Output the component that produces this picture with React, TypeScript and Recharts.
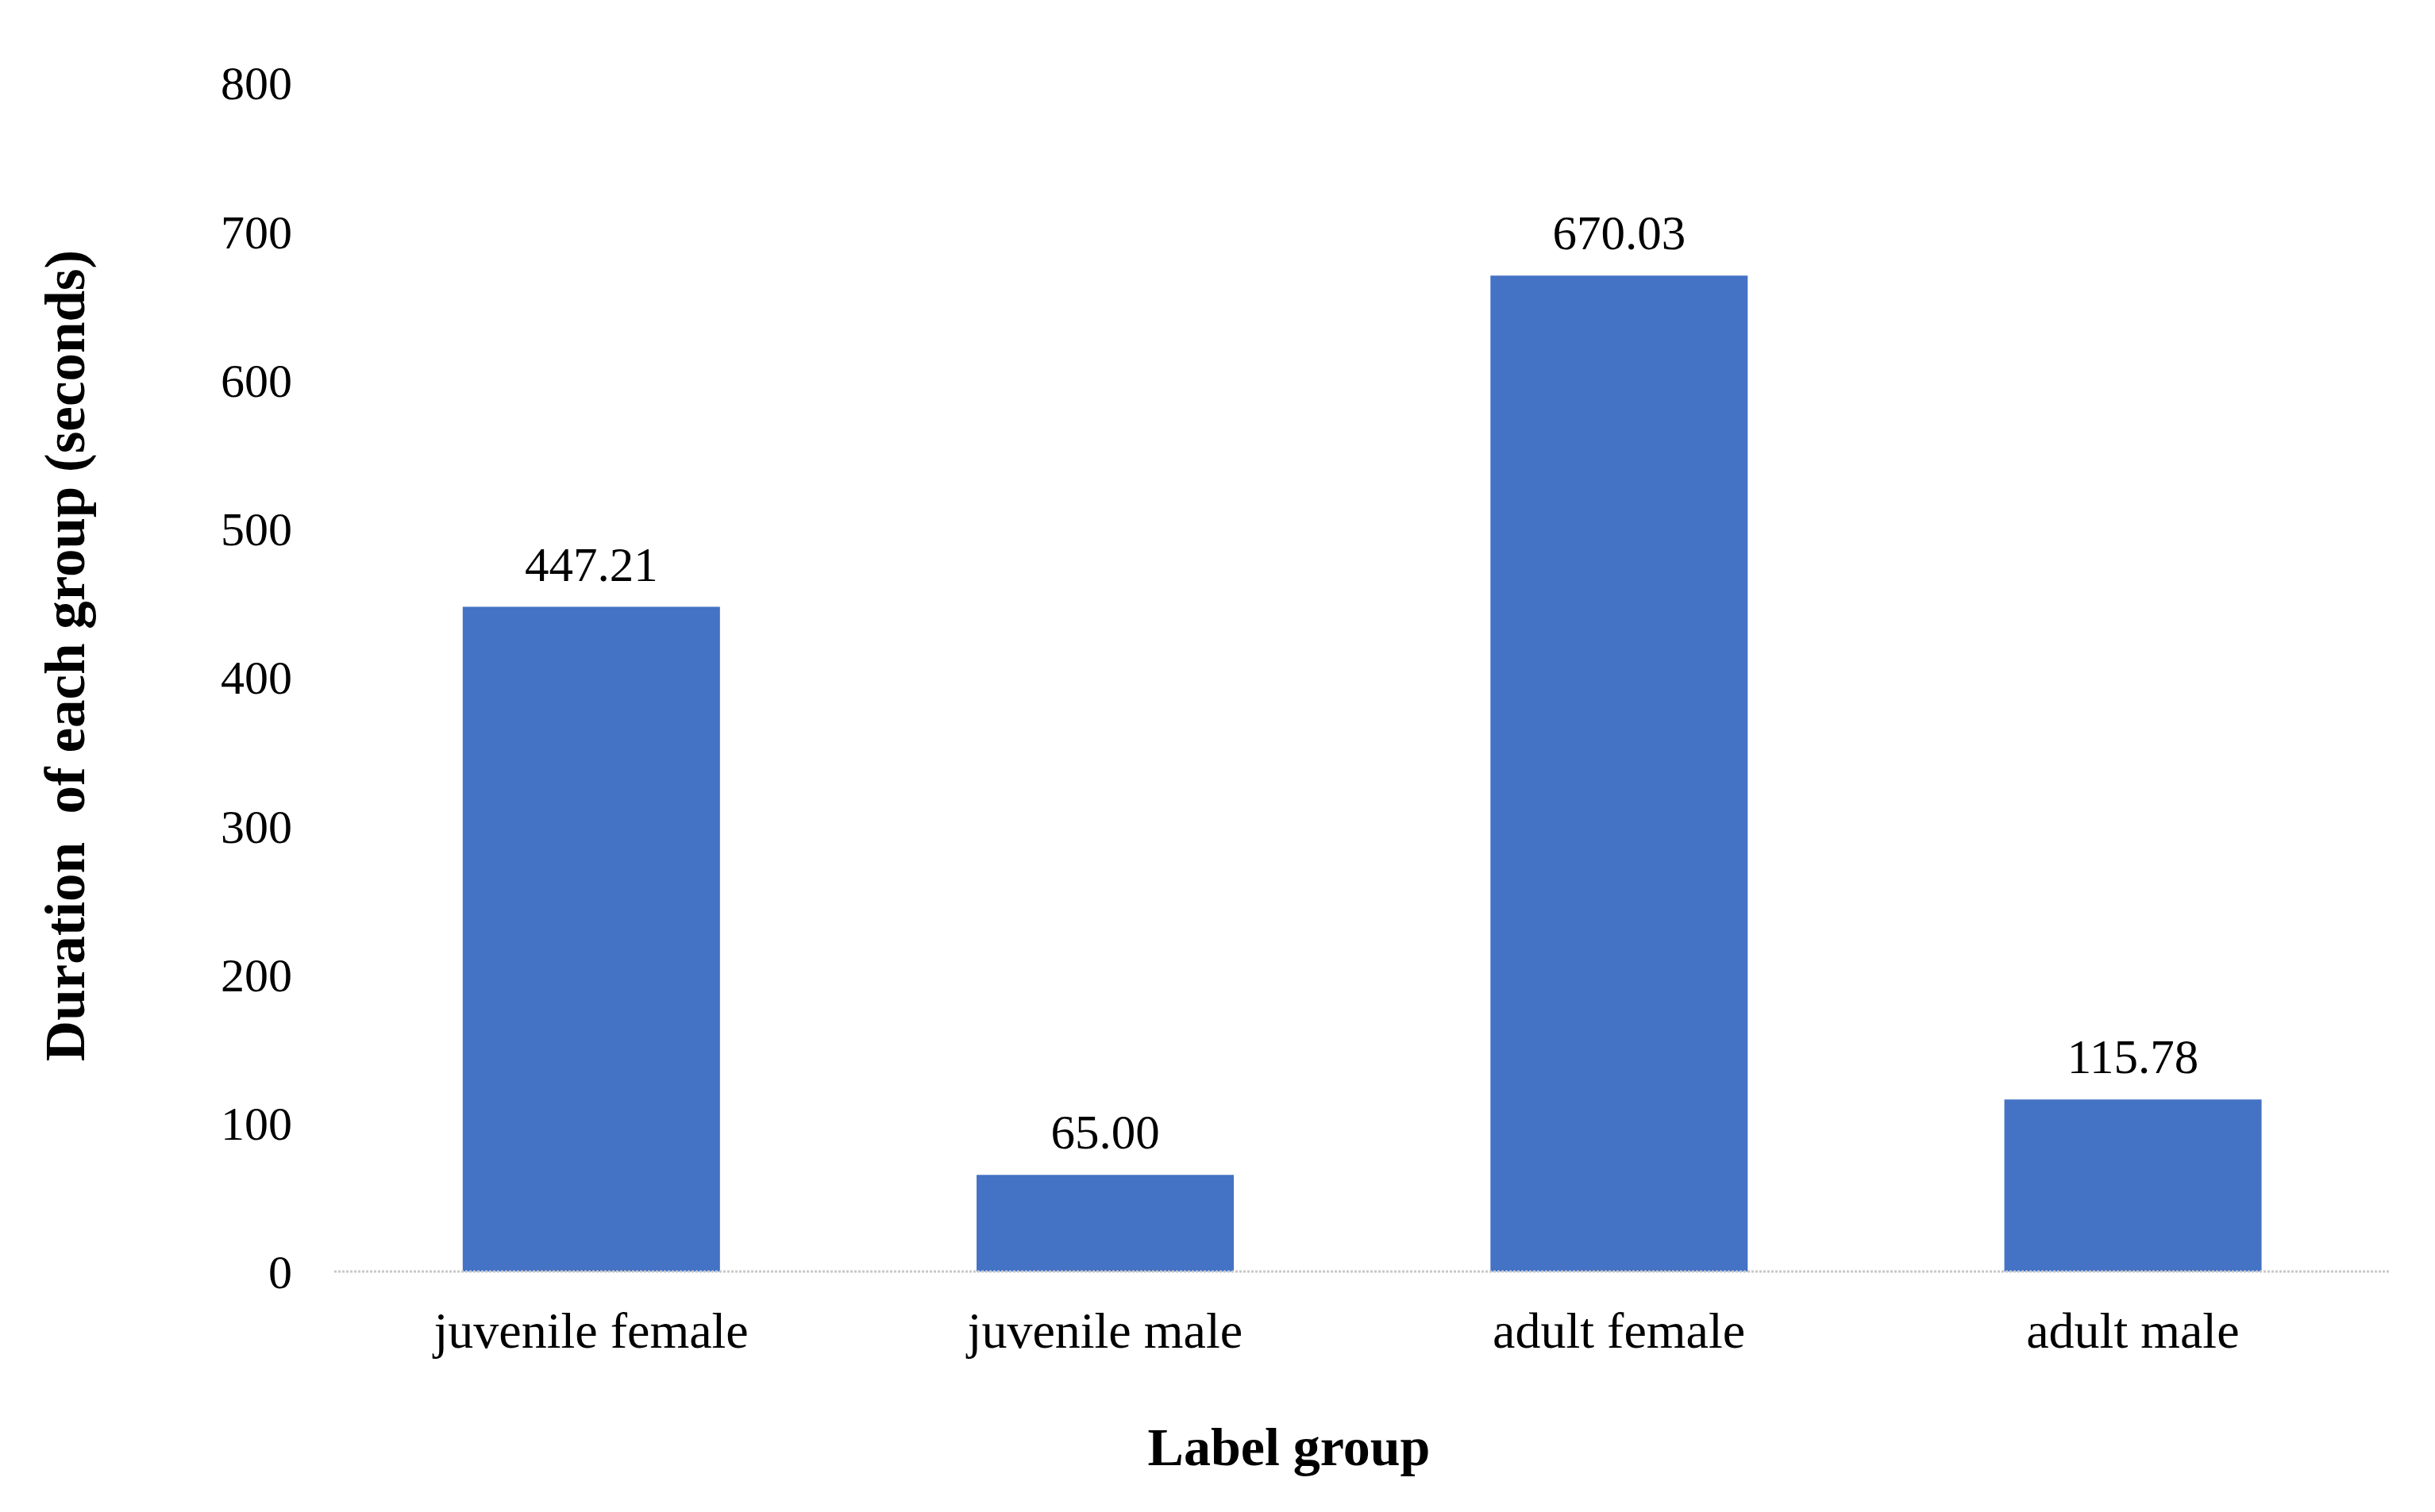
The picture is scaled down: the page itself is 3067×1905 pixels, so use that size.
import React from 'react';
import { BarChart, Bar, XAxis, YAxis, LabelList, Label } from 'recharts';

// Category names along the x axis
const groups = ['juvenile female', 'juvenile male', 'adult female', 'adult male'];
// Duration in seconds for each group
const durations = [447.21, 65.0, 670.03, 115.78];
// Y axis ticks
const yTicks = [0, 100, 200, 300, 400, 500, 600, 700, 800];

const data = groups.map((g, i) => ({ group: g, duration: durations[i] }));

const FONT = '"Liberation Serif", "Times New Roman", serif';

const App: React.FC = () => {
  return (
    <div style={{ width: 3051, height: 1889, background: '#fff' }}>
      <BarChart
        width={3051}
        height={1889}
        data={data}
        margin={{ top: 96, right: 49, left: 0, bottom: 0 }}
        barCategoryGap="25%"
      >
        <XAxis
          dataKey="group"
          height={295}
          tickLine={false}
          tickSize={0}
          tickMargin={51}
          axisLine={{ stroke: '#c8c8c8', strokeWidth: 3, strokeDasharray: '3 2' }}
          tick={{ fill: '#000', fontSize: 64, fontFamily: FONT }}
        >
          <Label
            content={({ viewBox }: any) => (
              <text
                x={viewBox.x + viewBox.width / 2 - 92}
                y={viewBox.y + 221}
                textAnchor="middle"
                dominantBaseline="central"
                fontFamily={FONT}
                fontWeight="bold"
                fontSize={68}
                fill="#000"
              >
                Label group
              </text>
            )}
          />
        </XAxis>
        <YAxis
          width={413}
          domain={[0, 800]}
          ticks={yTicks}
          interval={0}
          axisLine={false}
          tickLine={false}
          tickSize={0}
          tickMargin={53}
          tick={{ fill: '#000', fontSize: 60, fontFamily: FONT }}
        >
          <Label
            content={({ viewBox }: any) => {
              const cx = 74;
              const cy = viewBox.y + viewBox.height / 2 - 27;
              return (
                <text
                  x={cx}
                  y={cy}
                  transform={`rotate(-90 ${cx} ${cy})`}
                  textAnchor="middle"
                  dominantBaseline="central"
                  fontFamily={FONT}
                  fontWeight="bold"
                  fontSize={71}
                  fill="#000"
                  xmlSpace="preserve"
                >
                  Duration  of each group (seconds)
                </text>
              );
            }}
          />
        </YAxis>
        <Bar dataKey="duration" fill="#4472C4" isAnimationActive={false}>
          <LabelList
            dataKey="duration"
            position="top"
            offset={33}
            formatter={(v: any) => Number(v).toFixed(2)}
            style={{ fill: '#000', fontSize: 61, fontFamily: FONT }}
          />
        </Bar>
      </BarChart>
    </div>
  );
};

export default App;
